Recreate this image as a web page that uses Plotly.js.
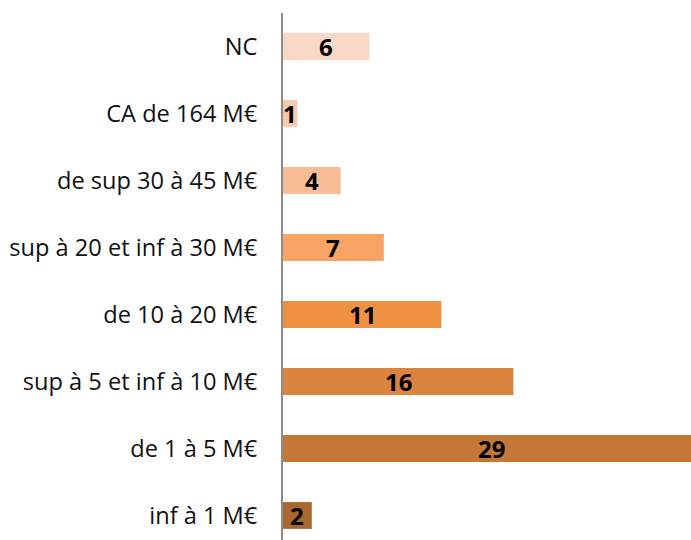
<!DOCTYPE html>
<html><head><meta charset="utf-8">
<script src="https://cdn.plot.ly/plotly-3.0.1.min.js"></script>
<style>html,body{margin:0;padding:0;background:#fff;}#chart{width:691px;height:540px;}</style>
</head><body><div id="chart"></div>
<script>
var categories = ["inf à 1 M€","de 1 à 5 M€","sup à 5 et inf à 10 M€","de 10 à 20 M€","sup à 20 et inf à 30 M€","de sup 30 à 45 M€","CA de 164 M€","NC"];
var values = [2,29,16,11,7,4,1,6];
var colors = ["#A9662E","#C57735","#DC843E","#EE9142","#F8A464","#F8BC96","#F9C9AE","#FAD8C8"];

var trace = {
  type: "bar", orientation: "h",
  x: values, y: categories,
  marker: {color: colors, line: {width: 0}},
  hoverinfo: "none", cliponaxis: true
};
var annotations = values.map(function(v, i){
  return {x: v/2, y: categories[i], xref: "x", yref: "y", text: String(v), showarrow: false,
    font: {family: "Open Sans, sans-serif", size: 24, color: "#000", weight: 700}, xanchor: "center", yanchor: "middle"};
});
var layout = {
  width: 691, height: 540,
  margin: {l: 283, r: 0, t: 13, b: 0, pad: 0},
  paper_bgcolor: "#fff", plot_bgcolor: "#fff",
  bargap: 0.6, showlegend: false,
  xaxis: {range: [0, 28.33], visible: false, fixedrange: true},
  yaxis: {type: "category", range: [-0.366, 7.5], showline: true, linecolor: "#8c8c8c", linewidth: 2,
    showgrid: false, zeroline: false, ticks: "", ticklabelstandoff: 19,
    tickfont: {family: "Open Sans, sans-serif", size: 23.6, color: "#111"}},
  annotations: annotations
};
Plotly.newPlot("chart", [trace], layout, {staticPlot: true, displayModeBar: false});
</script></body></html>
